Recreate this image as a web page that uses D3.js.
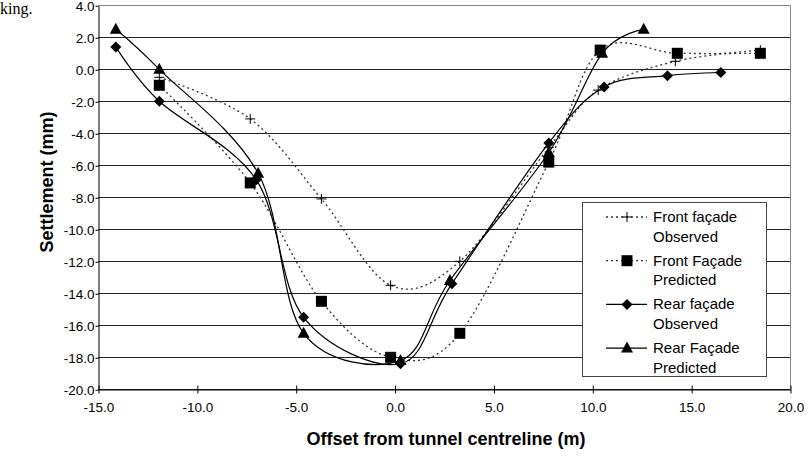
<!DOCTYPE html>
<html>
<head>
<meta charset="utf-8">
<script src="https://cdnjs.cloudflare.com/ajax/libs/d3/7.8.5/d3.min.js"></script>
<style>
  body { margin: 0; background: #fff; }
  svg { display: block; }
</style>
</head>
<body>
<svg id="chart" width="809" height="456"></svg>
<script>
(function(){

  // data: [offset (m), settlement (mm)]
  var frontObserved  = [[-11.9,-0.5],[-7.3,-3.1],[-3.7,-8.1],[-0.2,-13.5],[3.3,-12.0],[7.8,-4.9],[10.3,-1.3],[14.2,0.5],[18.5,1.2]];
  var frontPredicted = [[-11.9,-1.0],[-7.3,-7.1],[-3.7,-14.5],[-0.2,-18.0],[3.3,-16.5],[7.8,-5.8],[10.4,1.2],[14.3,1.0],[18.5,1.0]];
  var rearObserved   = [[-14.1,1.4],[-11.9,-2.0],[-7.0,-6.9],[-4.6,-15.5],[0.3,-18.4],[2.9,-13.4],[7.8,-4.6],[10.6,-1.1],[13.8,-0.4],[16.5,-0.2]];
  var rearPredicted  = [[-14.1,2.5],[-11.9,0.0],[-6.9,-6.5],[-4.6,-16.5],[0.3,-18.2],[2.8,-13.2],[7.8,-5.2],[10.5,1.0],[12.6,2.5]];

  var xTicks = [-15,-10,-5,0,5,10,15,20];
  var yTicks = [4,2,0,-2,-4,-6,-8,-10,-12,-14,-16,-18,-20];

  var series = [
    {name: ['Front façade','Observed'], data: frontObserved,  symbol: 'plus',     dash: '2,3'},
    {name: ['Front Façade','Predicted'], data: frontPredicted, symbol: 'square',   dash: '2,3'},
    {name: ['Rear façade','Observed'],   data: rearObserved,   symbol: 'diamond',  dash: null},
    {name: ['Rear Façade','Predicted'],  data: rearPredicted,  symbol: 'triangle', dash: null}
  ];

  var svg = d3.select('#chart');

  var left = 98, right = 790, top = 5.3, bottom = 389.3;
  var font = "'Liberation Sans', Arial, sans-serif";

  var x = d3.scaleLinear().domain([-15,20]).range([left,right]);
  var y = d3.scaleLinear().domain([-20,4]).range([bottom,top]);

  var fmt = function(d){ return d.toFixed(1) };

  // stray text from the page the chart was cut from
  svg.append('text')
    .attr('x', 0).attr('y', 14)
    .attr('font-family', "'Liberation Serif', 'DejaVu Serif', serif")
    .attr('font-size', 16)
    .attr('fill', '#000')
    .text('king.');

  // gridlines
  svg.append('g')
    .selectAll('line')
    .data(yTicks)
    .enter().append('line')
    .attr('x1', left).attr('x2', right)
    .attr('y1', function(d){return Math.round(y(d))+0.5})
    .attr('y2', function(d){return Math.round(y(d))+0.5})
    .attr('stroke', function(d){return d==4 ? '#888' : '#222'})
    .attr('stroke-width', 1);

  // right border
  svg.append('line')
    .attr('x1', right+0.5).attr('x2', right+0.5)
    .attr('y1', top).attr('y2', bottom)
    .attr('stroke', '#888');

  // y axis
  var yAxis = svg.append('g')
    .attr('transform', 'translate(' + (left+0.5) + ',0.5)')
    .call(d3.axisLeft(y).tickValues(yTicks).tickSize(3).tickSizeOuter(0).tickFormat(fmt));

  // x axis
  var xAxis = svg.append('g')
    .attr('transform', 'translate(0.5,' + (Math.round(bottom)+0.5) + ')')
    .call(d3.axisBottom(x).tickValues(xTicks).tickSize(4).tickSizeOuter(0).tickFormat(fmt));

  xAxis.selectAll('.tick line').attr('y1', -4).attr('y2', 4);

  [yAxis, xAxis].forEach(function(a){
    a.select('.domain').attr('stroke', '#000');
    a.selectAll('.tick line').attr('stroke', '#000');
    a.selectAll('text')
      .attr('font-family', font)
      .attr('font-size', 13.5)
      .attr('fill', '#000');
  });
  yAxis.selectAll('text').attr('x', -4);
  xAxis.selectAll('text').attr('y', 13);

  // axis titles
  svg.append('text')
    .attr('x', 446).attr('y', 445)
    .attr('text-anchor', 'middle')
    .attr('font-family', font)
    .attr('font-weight', 'bold')
    .attr('font-size', 18)
    .text('Offset from tunnel centreline (m)');

  svg.append('text')
    .attr('transform', 'translate(53,182) rotate(-90)')
    .attr('text-anchor', 'middle')
    .attr('font-family', font)
    .attr('font-weight', 'bold')
    .attr('font-size', 18)
    .text('Settlement (mm)');

  var line = d3.line()
    .x(function(d){return x(d[0])})
    .y(function(d){return y(d[1])})
    .curve(d3.curveCardinal.tension(0));

  function drawSymbol(g, type, cx, cy){
    if(type == 'plus'){
      g.append('path')
        .attr('d', 'M' + (cx-5) + ',' + cy + 'H' + (cx+5) + 'M' + cx + ',' + (cy-5) + 'V' + (cy+5))
        .attr('stroke', '#000').attr('stroke-width', 1).attr('fill', 'none');
    } else if(type == 'square'){
      g.append('rect')
        .attr('x', cx-5.5).attr('y', cy-5.5).attr('width', 11).attr('height', 11)
        .attr('fill', '#000');
    } else if(type == 'diamond'){
      g.append('path')
        .attr('d', 'M' + cx + ',' + (cy-5.5) + 'L' + (cx+5.5) + ',' + cy + 'L' + cx + ',' + (cy+5.5) + 'L' + (cx-5.5) + ',' + cy + 'Z')
        .attr('fill', '#000');
    } else {
      g.append('path')
        .attr('d', 'M' + cx + ',' + (cy-6.5) + 'L' + (cx+6) + ',' + (cy+4.5) + 'L' + (cx-6) + ',' + (cy+4.5) + 'Z')
        .attr('fill', '#000');
    }
  }

  var plot = svg.append('g');

  series.forEach(function(s){
    plot.append('path')
      .attr('d', line(s.data))
      .attr('fill', 'none')
      .attr('stroke', s.dash ? '#333' : '#000')
      .attr('stroke-width', s.dash ? 1.3 : 1.2)
      .attr('stroke-dasharray', s.dash);
  });

  series.forEach(function(s){
    var g = plot.append('g');
    s.data.forEach(function(d){
      drawSymbol(g, s.symbol, x(d[0]), y(d[1]));
    });
  });

  // legend
  var legend = svg.append('g');
  legend.append('rect')
    .attr('x', 582.5).attr('y', 202.5)
    .attr('width', 184).attr('height', 174)
    .attr('fill', '#fff')
    .attr('stroke', '#444');

  series.forEach(function(s,i){
    var cy = 217 + i*43.7;
    legend.append('line')
      .attr('x1', 606).attr('x2', 647)
      .attr('y1', cy).attr('y2', cy)
      .attr('stroke', s.dash ? '#333' : '#000')
      .attr('stroke-width', s.dash ? 1.3 : 1.2)
      .attr('stroke-dasharray', s.dash);
    drawSymbol(legend, s.symbol, 627, cy);
    s.name.forEach(function(t,j){
      legend.append('text')
        .attr('x', 653).attr('y', cy + 5 + j*19.5)
        .attr('font-family', font)
        .attr('font-size', 15)
        .attr('fill', '#000')
        .text(t);
    });
  });

})();
</script>
</body>
</html>
